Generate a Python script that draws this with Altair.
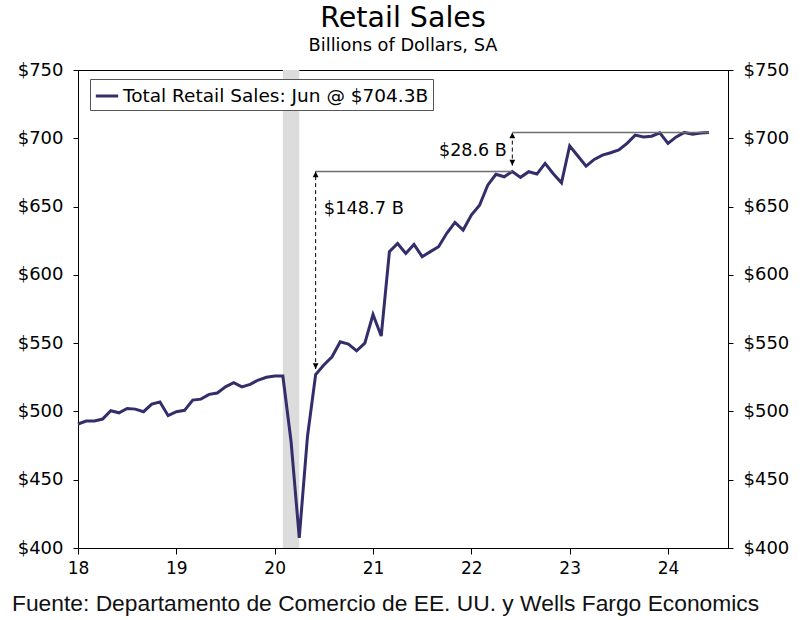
import altair as alt
import pandas as pd

# Monthly retail sales, Jan 2018 .. Jun 2024 (billions of dollars, SA)
sales = [
    490.8, 493.0, 493.0, 494.4, 500.5, 499.0, 502.2, 501.7, 499.8, 505.4, 506.9, 496.9,  # 2018
    499.8, 500.8, 508.3, 509.0, 512.5, 513.5, 518.0, 521.0, 518.0, 519.8, 523.0, 525.0,  # 2019
    525.9, 525.9, 478.0, 407.5, 481.5, 527.0, 534.0, 540.0, 551.0, 549.3, 544.4, 550.0,  # 2020
    571.0, 555.2, 616.9, 623.0, 615.7, 622.3, 613.3, 617.0, 620.6, 630.4, 638.4, 632.8,  # 2021
    643.8, 651.0, 665.7, 673.6, 671.8, 675.7, 671.4, 675.5, 673.8, 681.6, 674.0, 667.4,  # 2022
    694.5, 687.0, 679.6, 684.5, 687.7, 689.4, 691.4, 696.3, 702.3, 701.0, 701.5, 704.0,  # 2023
    696.3, 701.0, 704.3, 703.0, 703.8, 704.3,                                            # 2024
]
first_year = 18  # two-digit year of first month
series_name = "Total Retail Sales: Jun @ $704.3B"

# recession shading (Feb 2020 .. Apr 2020), decimal years
rec_start = [20 + 1 / 12]
rec_end = [20 + 3 / 12]

# reference levels
hline_x = [20 + 5 / 12, 22 + 5 / 12]
hline_x2 = [22 + 5 / 12, 24 + 5 / 12]
hline_y = [675.7, 704.3]

arrow_x = [20 + 5 / 12, 22 + 5 / 12]
arrow_lo = [531.0, 680.0]
arrow_hi = [675.7, 704.3]

label_text = ["$148.7 B", "$28.6 B"]
label_x = [20.50, 22.36]
label_y = [648.0, 690.6]

x_ticks = [18, 19, 20, 21, 22, 23, 24]
y_ticks = [400, 450, 500, 550, 600, 650, 700, 750]
x_domain = [18, 24.61]
y_domain = [400, 750]

W, H = 650, 478
LINE_COLOR = "#332d6c"
FONT = "DejaVu Sans"

df = pd.DataFrame({
    "t": [first_year + i / 12 for i in range(len(sales))],
    "sales": sales,
    "series": series_name,
})
rec_df = pd.DataFrame({"x": rec_start, "x2": rec_end, "y": [y_domain[0]], "y2": [y_domain[1]]})
hl_df = pd.DataFrame({"x": hline_x, "x2": hline_x2, "y": hline_y})
ar_df = pd.DataFrame({"x": arrow_x, "lo": arrow_lo, "hi": arrow_hi})
lab_df = pd.DataFrame({"x": label_x, "y": label_y, "text": label_text})
foot_df = pd.DataFrame({"text": ["Fuente: Departamento de Comercio de EE. UU. y Wells Fargo Economics"]})

xs = alt.Scale(domain=x_domain, nice=False, zero=False)
ys = alt.Scale(domain=y_domain, nice=False, zero=False)

x_axis = alt.Axis(values=x_ticks, format="d", title=None, grid=False, labelFontSize=17,
                  labelFont=FONT, labelColor="black", tickColor="black", domainColor="black",
                  tickSize=6, labelPadding=6, labelFlush=False)

def y_axis(orient):
    return alt.Axis(orient=orient, values=y_ticks, labelExpr="'$' + datum.value", title=None,
                    grid=False, labelFontSize=18, labelFont=FONT, labelColor="black",
                    tickColor="black", domainColor="black", tickSize=5, labelPadding=10)

rec = alt.Chart(rec_df).mark_rect(color="#dcdcdc").encode(
    x=alt.X("x:Q", scale=xs, axis=x_axis), x2="x2:Q",
    y=alt.Y("y:Q", scale=ys, axis=y_axis("left")), y2="y2:Q",
)

line = alt.Chart(df).mark_line(strokeWidth=3).encode(
    x=alt.X("t:Q", scale=xs),
    y=alt.Y("sales:Q", scale=ys),
    color=alt.Color("series:N", scale=alt.Scale(range=[LINE_COLOR]),
                    legend=alt.Legend(orient="none", legendX=12, legendY=9, title=None,
                                      symbolType="stroke", symbolStrokeWidth=3, symbolSize=500,
                                      labelFontSize=18.5, labelFont=FONT, labelColor="black",
                                      labelOffset=3,
                                      strokeColor="#555555", fillColor="white", padding=4,
                                      labelLimit=500)),
)

hl = alt.Chart(hl_df).mark_rule(color="#6e6e6e", strokeWidth=1.5).encode(
    x=alt.X("x:Q", scale=xs), x2="x2:Q", y=alt.Y("y:Q", scale=ys)
)

dash = alt.Chart(ar_df).mark_rule(color="black", strokeWidth=1, strokeDash=[4, 3]).encode(
    x=alt.X("x:Q", scale=xs), y=alt.Y("lo:Q", scale=ys), y2="hi:Q"
)

head_up = alt.Chart(ar_df).mark_point(shape="M0,0L-0.55,1.1L0.55,1.1Z", filled=True,
                                       color="black", size=110, opacity=1).encode(
    x=alt.X("x:Q", scale=xs), y=alt.Y("hi:Q", scale=ys)
)
head_dn = alt.Chart(ar_df).mark_point(shape="M0,0L-0.55,-1.1L0.55,-1.1Z", filled=True,
                                       color="black", size=110, opacity=1).encode(
    x=alt.X("x:Q", scale=xs), y=alt.Y("lo:Q", scale=ys)
)

lab_left = alt.Chart(lab_df.iloc[[0]]).mark_text(fontSize=17.8, font=FONT, color="black",
                                                 baseline="middle", align="left").encode(
    x=alt.X("x:Q", scale=xs), y=alt.Y("y:Q", scale=ys), text="text:N")
lab_right = alt.Chart(lab_df.iloc[[1]]).mark_text(fontSize=17.5, font=FONT, color="black",
                                                  baseline="middle", align="right").encode(
    x=alt.X("x:Q", scale=xs), y=alt.Y("y:Q", scale=ys), text="text:N")

right_axis = alt.Chart(rec_df).mark_rect(opacity=0).encode(
    x=alt.X("x:Q", scale=xs), x2="x2:Q",
    y=alt.Y("y:Q", scale=ys, axis=y_axis("right")), y2="y2:Q",
)

footer = alt.Chart(foot_df).mark_text(font="Liberation Sans", fontSize=22.8, color="#111111",
                                      align="left", baseline="middle").encode(
    text="text:N", x=alt.value(-66), y=alt.value(H + 56)
)

left_group = alt.layer(rec, line, hl, dash, head_up, head_dn, lab_left, lab_right, footer)

chart = alt.layer(left_group, right_axis).resolve_axis(y="independent").properties(
    width=W, height=H,
    title=alt.Title("Retail Sales", subtitle="Billions of Dollars, SA", font=FONT,
                    fontSize=28.5, fontWeight="normal", subtitleFont=FONT, subtitleFontSize=17.8,
                    anchor="middle", offset=6, subtitlePadding=5, color="black",
                    subtitleColor="black"),
    autosize=alt.AutoSizeParams(type="none"),
    padding={"left": 78, "top": 70, "right": 76, "bottom": 72},
).configure_view(stroke="black", strokeWidth=1)

chart.save("out.html", embed_options={"renderer": "svg", "actions": False})
